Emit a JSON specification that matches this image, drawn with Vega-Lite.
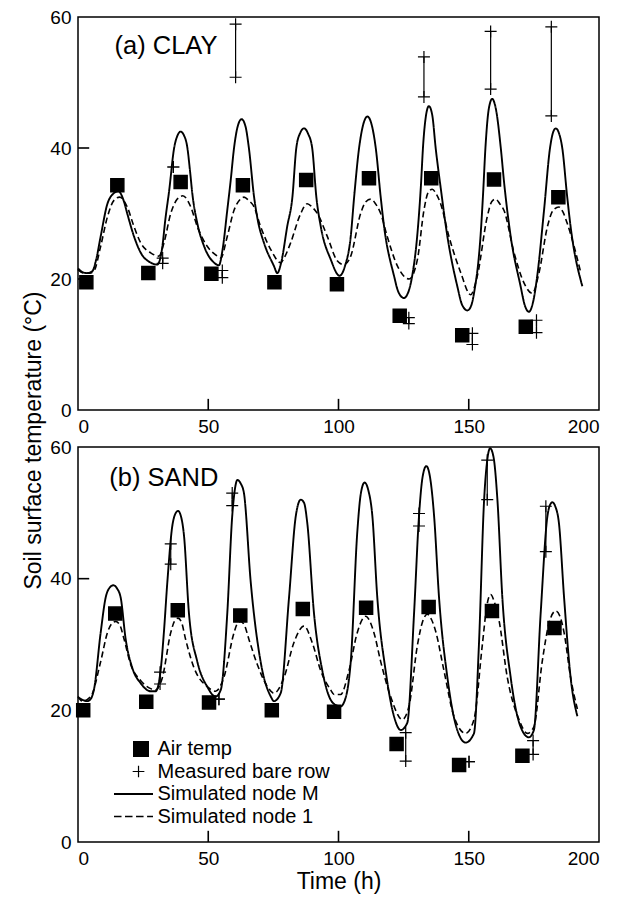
{
  "$schema": "https://vega.github.io/schema/vega-lite/v6.json",
  "padding": {"left": 22, "top": 7, "right": 5, "bottom": 5},
  "background": "white",
  "datasets": {
    "curves": [
      {"p":"a","s":"M","t":0,"v":21.6},{"p":"a","s":"M","t":2,"v":21.0},{"p":"a","s":"M","t":3.6,"v":20.9},{"p":"a","s":"M","t":5.5,"v":21.2},{"p":"a","s":"M","t":7,"v":23.0},{"p":"a","s":"M","t":8.7,"v":26.5},{"p":"a","s":"M","t":11.3,"v":31.5},{"p":"a","s":"M","t":13.5,"v":33.0},{"p":"a","s":"M","t":15.5,"v":33.4},{"p":"a","s":"M","t":17.5,"v":32.0},{"p":"a","s":"M","t":18.9,"v":30.0},{"p":"a","s":"M","t":21.5,"v":26.5},{"p":"a","s":"M","t":24.1,"v":24.0},{"p":"a","s":"M","t":27.9,"v":22.5},{"p":"a","s":"M","t":30.4,"v":22.2},{"p":"a","s":"M","t":31.5,"v":23.0},{"p":"a","s":"M","t":32.4,"v":25.0},{"p":"a","s":"M","t":33.5,"v":29.0},{"p":"a","s":"M","t":35.0,"v":33.5},{"p":"a","s":"M","t":36.9,"v":40.0},{"p":"a","s":"M","t":38.3,"v":42.0},{"p":"a","s":"M","t":39.4,"v":42.5},{"p":"a","s":"M","t":40.6,"v":42.0},{"p":"a","s":"M","t":42.0,"v":40.0},{"p":"a","s":"M","t":43.0,"v":36.5},{"p":"a","s":"M","t":43.9,"v":33.0},{"p":"a","s":"M","t":45.8,"v":28.5},{"p":"a","s":"M","t":48.4,"v":25.0},{"p":"a","s":"M","t":52.2,"v":22.5},{"p":"a","s":"M","t":54.1,"v":22.1},{"p":"a","s":"M","t":55.5,"v":24.5},{"p":"a","s":"M","t":57.3,"v":30.5},{"p":"a","s":"M","t":58.6,"v":35.0},{"p":"a","s":"M","t":59.9,"v":40.0},{"p":"a","s":"M","t":61.3,"v":43.3},{"p":"a","s":"M","t":62.8,"v":44.4},{"p":"a","s":"M","t":64.3,"v":43.3},{"p":"a","s":"M","t":65.6,"v":40.0},{"p":"a","s":"M","t":67.6,"v":32.5},{"p":"a","s":"M","t":69.0,"v":29.0},{"p":"a","s":"M","t":71.4,"v":25.5},{"p":"a","s":"M","t":75.2,"v":22.0},{"p":"a","s":"M","t":76.5,"v":20.9},{"p":"a","s":"M","t":78.0,"v":22.5},{"p":"a","s":"M","t":80.3,"v":28.0},{"p":"a","s":"M","t":82.3,"v":32.5},{"p":"a","s":"M","t":83.8,"v":40.0},{"p":"a","s":"M","t":85.3,"v":42.3},{"p":"a","s":"M","t":86.8,"v":43.0},{"p":"a","s":"M","t":88.3,"v":42.2},{"p":"a","s":"M","t":89.9,"v":40.0},{"p":"a","s":"M","t":91.5,"v":32.5},{"p":"a","s":"M","t":93.2,"v":28.0},{"p":"a","s":"M","t":97.0,"v":23.0},{"p":"a","s":"M","t":100.4,"v":20.5},{"p":"a","s":"M","t":102.5,"v":22.0},{"p":"a","s":"M","t":104.7,"v":26.5},{"p":"a","s":"M","t":106.0,"v":32.5},{"p":"a","s":"M","t":107.9,"v":40.0},{"p":"a","s":"M","t":109.5,"v":43.6},{"p":"a","s":"M","t":111.1,"v":44.8},{"p":"a","s":"M","t":112.7,"v":43.6},{"p":"a","s":"M","t":114.3,"v":40.0},{"p":"a","s":"M","t":116.2,"v":32.5},{"p":"a","s":"M","t":117.5,"v":28.0},{"p":"a","s":"M","t":121.3,"v":20.5},{"p":"a","s":"M","t":123.0,"v":18.0},{"p":"a","s":"M","t":125.1,"v":17.1},{"p":"a","s":"M","t":126.8,"v":18.0},{"p":"a","s":"M","t":128.3,"v":20.5},{"p":"a","s":"M","t":130.2,"v":26.5},{"p":"a","s":"M","t":131.6,"v":34.0},{"p":"a","s":"M","t":132.5,"v":40.5},{"p":"a","s":"M","t":133.6,"v":45.0},{"p":"a","s":"M","t":134.7,"v":46.4},{"p":"a","s":"M","t":136.0,"v":45.0},{"p":"a","s":"M","t":137.3,"v":40.0},{"p":"a","s":"M","t":139.2,"v":34.0},{"p":"a","s":"M","t":141.8,"v":26.5},{"p":"a","s":"M","t":145.6,"v":18.9},{"p":"a","s":"M","t":147.5,"v":16.0},{"p":"a","s":"M","t":149.5,"v":15.2},{"p":"a","s":"M","t":151.0,"v":16.0},{"p":"a","s":"M","t":152.0,"v":17.8},{"p":"a","s":"M","t":154.6,"v":27.0},{"p":"a","s":"M","t":155.5,"v":33.0},{"p":"a","s":"M","t":156.4,"v":40.0},{"p":"a","s":"M","t":157.7,"v":46.0},{"p":"a","s":"M","t":159.0,"v":47.5},{"p":"a","s":"M","t":160.4,"v":46.0},{"p":"a","s":"M","t":162.3,"v":40.0},{"p":"a","s":"M","t":163.5,"v":35.0},{"p":"a","s":"M","t":166.1,"v":26.5},{"p":"a","s":"M","t":169.9,"v":18.9},{"p":"a","s":"M","t":171.5,"v":16.0},{"p":"a","s":"M","t":173.1,"v":15.0},{"p":"a","s":"M","t":174.7,"v":16.5},{"p":"a","s":"M","t":176.3,"v":20.5},{"p":"a","s":"M","t":178.9,"v":30.5},{"p":"a","s":"M","t":181.2,"v":40.0},{"p":"a","s":"M","t":182.3,"v":42.3},{"p":"a","s":"M","t":183.4,"v":43.0},{"p":"a","s":"M","t":184.6,"v":42.3},{"p":"a","s":"M","t":185.9,"v":40.0},{"p":"a","s":"M","t":187.8,"v":32.5},{"p":"a","s":"M","t":189.1,"v":28.0},{"p":"a","s":"M","t":193.6,"v":18.9},
      {"p":"a","s":"1","t":0,"v":21.4},{"p":"a","s":"1","t":2.3,"v":20.9},{"p":"a","s":"1","t":4.5,"v":20.9},{"p":"a","s":"1","t":6.1,"v":21.2},{"p":"a","s":"1","t":8.7,"v":25.0},{"p":"a","s":"1","t":11.3,"v":29.5},{"p":"a","s":"1","t":13.8,"v":32.0},{"p":"a","s":"1","t":16.0,"v":32.5},{"p":"a","s":"1","t":18.9,"v":31.0},{"p":"a","s":"1","t":21.5,"v":28.0},{"p":"a","s":"1","t":24.1,"v":25.5},{"p":"a","s":"1","t":27.9,"v":24.0},{"p":"a","s":"1","t":31.1,"v":23.5},{"p":"a","s":"1","t":33.0,"v":25.5},{"p":"a","s":"1","t":35.6,"v":30.0},{"p":"a","s":"1","t":38.1,"v":32.2},{"p":"a","s":"1","t":40.2,"v":32.7},{"p":"a","s":"1","t":43.3,"v":31.0},{"p":"a","s":"1","t":45.8,"v":28.0},{"p":"a","s":"1","t":49.6,"v":25.0},{"p":"a","s":"1","t":53.5,"v":23.5},{"p":"a","s":"1","t":54.8,"v":23.2},{"p":"a","s":"1","t":57.3,"v":26.5},{"p":"a","s":"1","t":59.9,"v":30.5},{"p":"a","s":"1","t":62.4,"v":32.2},{"p":"a","s":"1","t":63.7,"v":32.5},{"p":"a","s":"1","t":65.5,"v":32.0},{"p":"a","s":"1","t":67.6,"v":31.0},{"p":"a","s":"1","t":70.1,"v":28.0},{"p":"a","s":"1","t":74.0,"v":24.5},{"p":"a","s":"1","t":77.8,"v":22.5},{"p":"a","s":"1","t":79.5,"v":23.5},{"p":"a","s":"1","t":81.6,"v":25.5},{"p":"a","s":"1","t":85.5,"v":30.0},{"p":"a","s":"1","t":88.0,"v":31.5},{"p":"a","s":"1","t":89.8,"v":31.0},{"p":"a","s":"1","t":91.9,"v":30.0},{"p":"a","s":"1","t":95.7,"v":26.5},{"p":"a","s":"1","t":99.5,"v":22.8},{"p":"a","s":"1","t":102.1,"v":22.2},{"p":"a","s":"1","t":104.7,"v":23.5},{"p":"a","s":"1","t":108.5,"v":30.0},{"p":"a","s":"1","t":110.5,"v":31.8},{"p":"a","s":"1","t":112.4,"v":32.2},{"p":"a","s":"1","t":114.2,"v":31.5},{"p":"a","s":"1","t":116.2,"v":30.0},{"p":"a","s":"1","t":118.7,"v":26.5},{"p":"a","s":"1","t":122.6,"v":22.0},{"p":"a","s":"1","t":127.1,"v":20.0},{"p":"a","s":"1","t":130.3,"v":23.0},{"p":"a","s":"1","t":132.8,"v":30.5},{"p":"a","s":"1","t":134.4,"v":33.2},{"p":"a","s":"1","t":136.0,"v":33.7},{"p":"a","s":"1","t":137.5,"v":33.0},{"p":"a","s":"1","t":139.2,"v":31.5},{"p":"a","s":"1","t":142.4,"v":26.5},{"p":"a","s":"1","t":146.9,"v":21.0},{"p":"a","s":"1","t":150.7,"v":17.6},{"p":"a","s":"1","t":153.3,"v":20.5},{"p":"a","s":"1","t":157.1,"v":29.5},{"p":"a","s":"1","t":158.8,"v":31.8},{"p":"a","s":"1","t":160.3,"v":32.2},{"p":"a","s":"1","t":161.9,"v":31.5},{"p":"a","s":"1","t":163.5,"v":30.5},{"p":"a","s":"1","t":167.4,"v":24.0},{"p":"a","s":"1","t":171.2,"v":19.4},{"p":"a","s":"1","t":174.4,"v":17.8},{"p":"a","s":"1","t":177.0,"v":21.0},{"p":"a","s":"1","t":180.2,"v":28.0},{"p":"a","s":"1","t":182.4,"v":30.5},{"p":"a","s":"1","t":184.6,"v":31.0},{"p":"a","s":"1","t":186.2,"v":30.2},{"p":"a","s":"1","t":187.8,"v":28.5},{"p":"a","s":"1","t":193.0,"v":21.0},
      {"p":"b","s":"M","t":0,"v":22.0},{"p":"b","s":"M","t":1.7,"v":21.6},{"p":"b","s":"M","t":3.6,"v":21.4},{"p":"b","s":"M","t":5.0,"v":21.8},{"p":"b","s":"M","t":6.1,"v":23.1},{"p":"b","s":"M","t":8.7,"v":31.8},{"p":"b","s":"M","t":10.6,"v":37.1},{"p":"b","s":"M","t":12.3,"v":38.7},{"p":"b","s":"M","t":13.6,"v":39.0},{"p":"b","s":"M","t":15.0,"v":38.5},{"p":"b","s":"M","t":16.4,"v":37.1},{"p":"b","s":"M","t":18.3,"v":30.8},{"p":"b","s":"M","t":20.8,"v":26.5},{"p":"b","s":"M","t":24.1,"v":24.1},{"p":"b","s":"M","t":27.9,"v":22.9},{"p":"b","s":"M","t":29.8,"v":22.9},{"p":"b","s":"M","t":31.7,"v":26.0},{"p":"b","s":"M","t":33.0,"v":32.0},{"p":"b","s":"M","t":34.3,"v":39.5},{"p":"b","s":"M","t":36.2,"v":48.0},{"p":"b","s":"M","t":37.3,"v":49.8},{"p":"b","s":"M","t":38.4,"v":50.3},{"p":"b","s":"M","t":39.5,"v":49.5},{"p":"b","s":"M","t":40.7,"v":46.5},{"p":"b","s":"M","t":42.6,"v":34.7},{"p":"b","s":"M","t":45.8,"v":27.4},{"p":"b","s":"M","t":49.6,"v":23.6},{"p":"b","s":"M","t":52.8,"v":22.1},{"p":"b","s":"M","t":54.8,"v":23.1},{"p":"b","s":"M","t":57.3,"v":34.7},{"p":"b","s":"M","t":59.2,"v":49.5},{"p":"b","s":"M","t":60.2,"v":53.5},{"p":"b","s":"M","t":61.2,"v":55.0},{"p":"b","s":"M","t":62.4,"v":54.5},{"p":"b","s":"M","t":63.7,"v":53.0},{"p":"b","s":"M","t":66.3,"v":39.5},{"p":"b","s":"M","t":70.1,"v":27.4},{"p":"b","s":"M","t":74.0,"v":22.1},{"p":"b","s":"M","t":75.2,"v":21.4},{"p":"b","s":"M","t":77.8,"v":22.6},{"p":"b","s":"M","t":81.0,"v":37.1},{"p":"b","s":"M","t":83.6,"v":49.5},{"p":"b","s":"M","t":85.5,"v":52.0},{"p":"b","s":"M","t":86.8,"v":51.5},{"p":"b","s":"M","t":88.0,"v":48.5},{"p":"b","s":"M","t":90.6,"v":34.7},{"p":"b","s":"M","t":93.8,"v":26.0},{"p":"b","s":"M","t":97.0,"v":21.6},{"p":"b","s":"M","t":99.5,"v":20.7},{"p":"b","s":"M","t":100.8,"v":20.6},{"p":"b","s":"M","t":102.1,"v":21.2},{"p":"b","s":"M","t":104.7,"v":27.4},{"p":"b","s":"M","t":107.2,"v":47.0},{"p":"b","s":"M","t":108.6,"v":53.0},{"p":"b","s":"M","t":110.0,"v":54.6},{"p":"b","s":"M","t":111.4,"v":53.5},{"p":"b","s":"M","t":113.0,"v":49.5},{"p":"b","s":"M","t":114.9,"v":37.1},{"p":"b","s":"M","t":118.1,"v":26.0},{"p":"b","s":"M","t":121.3,"v":19.1},{"p":"b","s":"M","t":123.9,"v":17.0},{"p":"b","s":"M","t":126.4,"v":18.1},{"p":"b","s":"M","t":129.0,"v":34.7},{"p":"b","s":"M","t":130.9,"v":49.5},{"p":"b","s":"M","t":132.3,"v":55.5},{"p":"b","s":"M","t":133.7,"v":57.1},{"p":"b","s":"M","t":135.1,"v":55.5},{"p":"b","s":"M","t":136.7,"v":49.5},{"p":"b","s":"M","t":138.6,"v":37.1},{"p":"b","s":"M","t":141.8,"v":25.0},{"p":"b","s":"M","t":145.6,"v":17.0},{"p":"b","s":"M","t":148.8,"v":15.1},{"p":"b","s":"M","t":152.0,"v":16.5},{"p":"b","s":"M","t":153.9,"v":29.9},{"p":"b","s":"M","t":155.9,"v":52.0},{"p":"b","s":"M","t":157.1,"v":58.0},{"p":"b","s":"M","t":158.2,"v":59.8},{"p":"b","s":"M","t":159.5,"v":58.5},{"p":"b","s":"M","t":161.0,"v":52.0},{"p":"b","s":"M","t":162.9,"v":37.1},{"p":"b","s":"M","t":166.1,"v":25.0},{"p":"b","s":"M","t":169.9,"v":17.5},{"p":"b","s":"M","t":173.1,"v":15.9},{"p":"b","s":"M","t":175.0,"v":17.0},{"p":"b","s":"M","t":177.6,"v":34.7},{"p":"b","s":"M","t":180.2,"v":49.5},{"p":"b","s":"M","t":181.2,"v":51.2},{"p":"b","s":"M","t":182.1,"v":51.6},{"p":"b","s":"M","t":183.2,"v":51.0},{"p":"b","s":"M","t":184.6,"v":48.5},{"p":"b","s":"M","t":186.6,"v":37.1},{"p":"b","s":"M","t":189.1,"v":25.0},{"p":"b","s":"M","t":191.7,"v":19.1},
      {"p":"b","s":"1","t":0,"v":22.1},{"p":"b","s":"1","t":1.7,"v":21.4},{"p":"b","s":"1","t":4.9,"v":22.1},{"p":"b","s":"1","t":8.7,"v":27.4},{"p":"b","s":"1","t":11.3,"v":31.8},{"p":"b","s":"1","t":13.0,"v":33.2},{"p":"b","s":"1","t":14.5,"v":33.5},{"p":"b","s":"1","t":16.0,"v":33.0},{"p":"b","s":"1","t":17.7,"v":30.8},{"p":"b","s":"1","t":20.2,"v":27.0},{"p":"b","s":"1","t":24.1,"v":24.5},{"p":"b","s":"1","t":27.9,"v":23.3},{"p":"b","s":"1","t":29.8,"v":23.1},{"p":"b","s":"1","t":32.4,"v":25.0},{"p":"b","s":"1","t":35.6,"v":31.8},{"p":"b","s":"1","t":37.0,"v":33.5},{"p":"b","s":"1","t":38.4,"v":34.0},{"p":"b","s":"1","t":39.8,"v":33.3},{"p":"b","s":"1","t":41.3,"v":30.8},{"p":"b","s":"1","t":44.5,"v":26.5},{"p":"b","s":"1","t":49.6,"v":23.6},{"p":"b","s":"1","t":52.8,"v":22.9},{"p":"b","s":"1","t":56.0,"v":25.0},{"p":"b","s":"1","t":59.9,"v":31.8},{"p":"b","s":"1","t":61.2,"v":33.2},{"p":"b","s":"1","t":62.4,"v":33.5},{"p":"b","s":"1","t":63.8,"v":33.0},{"p":"b","s":"1","t":65.6,"v":30.8},{"p":"b","s":"1","t":68.8,"v":27.0},{"p":"b","s":"1","t":72.7,"v":23.6},{"p":"b","s":"1","t":75.2,"v":22.6},{"p":"b","s":"1","t":79.1,"v":25.0},{"p":"b","s":"1","t":82.9,"v":30.3},{"p":"b","s":"1","t":86.8,"v":32.8},{"p":"b","s":"1","t":89.9,"v":30.3},{"p":"b","s":"1","t":93.2,"v":26.0},{"p":"b","s":"1","t":97.0,"v":23.1},{"p":"b","s":"1","t":98.3,"v":22.4},{"p":"b","s":"1","t":100.8,"v":22.4},{"p":"b","s":"1","t":104.0,"v":26.0},{"p":"b","s":"1","t":107.2,"v":31.8},{"p":"b","s":"1","t":110.4,"v":34.3},{"p":"b","s":"1","t":113.6,"v":31.8},{"p":"b","s":"1","t":116.2,"v":27.4},{"p":"b","s":"1","t":120.0,"v":22.1},{"p":"b","s":"1","t":124.5,"v":18.6},{"p":"b","s":"1","t":127.1,"v":20.7},{"p":"b","s":"1","t":130.3,"v":29.9},{"p":"b","s":"1","t":132.3,"v":33.5},{"p":"b","s":"1","t":134.1,"v":34.6},{"p":"b","s":"1","t":135.7,"v":33.8},{"p":"b","s":"1","t":137.3,"v":32.0},{"p":"b","s":"1","t":140.5,"v":26.0},{"p":"b","s":"1","t":144.3,"v":19.1},{"p":"b","s":"1","t":148.8,"v":16.5},{"p":"b","s":"1","t":152.0,"v":18.6},{"p":"b","s":"1","t":155.2,"v":29.9},{"p":"b","s":"1","t":157.0,"v":36.0},{"p":"b","s":"1","t":158.4,"v":37.6},{"p":"b","s":"1","t":159.8,"v":36.5},{"p":"b","s":"1","t":161.6,"v":33.7},{"p":"b","s":"1","t":164.8,"v":25.0},{"p":"b","s":"1","t":169.3,"v":18.6},{"p":"b","s":"1","t":172.5,"v":16.5},{"p":"b","s":"1","t":175.0,"v":17.5},{"p":"b","s":"1","t":178.2,"v":27.4},{"p":"b","s":"1","t":181.0,"v":33.5},{"p":"b","s":"1","t":183.4,"v":35.1},{"p":"b","s":"1","t":185.0,"v":34.3},{"p":"b","s":"1","t":186.6,"v":31.8},{"p":"b","s":"1","t":189.1,"v":25.0},{"p":"b","s":"1","t":191.7,"v":20.2}
    ],
    "air": [
      {"p":"a","s":"Air temp","t":3.2,"v":19.5},{"p":"a","s":"Air temp","t":15.1,"v":34.3},{"p":"a","s":"Air temp","t":27.0,"v":20.9},{"p":"a","s":"Air temp","t":39.4,"v":34.8},{"p":"a","s":"Air temp","t":51.2,"v":20.8},{"p":"a","s":"Air temp","t":63.3,"v":34.3},{"p":"a","s":"Air temp","t":75.4,"v":19.5},{"p":"a","s":"Air temp","t":87.6,"v":35.1},{"p":"a","s":"Air temp","t":99.4,"v":19.2},{"p":"a","s":"Air temp","t":111.7,"v":35.4},{"p":"a","s":"Air temp","t":123.5,"v":14.4},{"p":"a","s":"Air temp","t":135.6,"v":35.4},{"p":"a","s":"Air temp","t":147.5,"v":11.4},{"p":"a","s":"Air temp","t":159.7,"v":35.2},{"p":"a","s":"Air temp","t":171.9,"v":12.7},{"p":"a","s":"Air temp","t":184.4,"v":32.5},
      {"p":"b","s":"Air temp","t":2.0,"v":20.0},{"p":"b","s":"Air temp","t":14.3,"v":34.7},{"p":"b","s":"Air temp","t":26.2,"v":21.3},{"p":"b","s":"Air temp","t":38.3,"v":35.2},{"p":"b","s":"Air temp","t":50.3,"v":21.2},{"p":"b","s":"Air temp","t":62.3,"v":34.4},{"p":"b","s":"Air temp","t":74.4,"v":20.0},{"p":"b","s":"Air temp","t":86.3,"v":35.4},{"p":"b","s":"Air temp","t":98.3,"v":19.8},{"p":"b","s":"Air temp","t":110.6,"v":35.6},{"p":"b","s":"Air temp","t":122.3,"v":14.9},{"p":"b","s":"Air temp","t":134.6,"v":35.7},{"p":"b","s":"Air temp","t":146.3,"v":11.7},{"p":"b","s":"Air temp","t":158.9,"v":35.1},{"p":"b","s":"Air temp","t":170.6,"v":13.1},{"p":"b","s":"Air temp","t":182.9,"v":32.5}
    ],
    "meas": [
      {"p":"a","t":32.5,"lo":22.4,"hi":23.2},{"p":"a","t":36.6,"lo":37.1,"hi":37.1},{"p":"a","t":55.4,"lo":20.2,"hi":21.3},{"p":"a","t":60.5,"lo":50.8,"hi":58.9},{"p":"a","t":127.0,"lo":13.2,"hi":14.1},{"p":"a","t":132.8,"lo":47.8,"hi":53.9},{"p":"a","t":151.4,"lo":10.0,"hi":11.7},{"p":"a","t":158.4,"lo":49.0,"hi":57.8},{"p":"a","t":176.0,"lo":11.8,"hi":13.7},{"p":"a","t":181.7,"lo":44.9,"hi":58.5},
      {"p":"b","t":31.5,"lo":24.0,"hi":25.8},{"p":"b","t":35.6,"lo":42.2,"hi":45.3},{"p":"b","t":54.1,"lo":21.7,"hi":21.7},{"p":"b","t":59.2,"lo":51.1,"hi":53.0},{"p":"b","t":125.8,"lo":12.3,"hi":16.6},{"p":"b","t":130.9,"lo":48.0,"hi":49.9},{"p":"b","t":150.1,"lo":12.2,"hi":12.2},{"p":"b","t":157.1,"lo":52.0,"hi":58.0},{"p":"b","t":174.7,"lo":13.3,"hi":15.4},{"p":"b","t":179.6,"lo":44.1,"hi":51.0}
    ],
    "xticks": [{"tx": 50}, {"tx": 100}, {"tx": 150}],
    "yticks": [{"ty": 20}, {"ty": 40}]
  },
  "vconcat": [
    {
      "width": 521, "height": 393,
      "layer": [
        {
          "data": {"name": "curves"},
          "transform": [{"filter": "datum.p === 'a'"}],
          "mark": {"type": "line", "interpolate": "monotone", "color": "black"},
          "encoding": {
            "x": {"field": "t", "type": "quantitative", "scale": {"domain": [0, 200], "nice": false}, "axis": {"values": [0, 50, 100, 150, 200], "title": null}},
            "y": {"field": "v", "type": "quantitative", "scale": {"domain": [0, 60], "nice": false}, "axis": {"values": [0, 20, 40, 60], "title": null}},
            "detail": {"field": "s"},
            "strokeDash": {"field": "s", "type": "nominal", "scale": {"domain": ["M", "1"], "range": [[1, 0], [6, 3.5]]}, "legend": null},
            "strokeWidth": {"field": "s", "type": "nominal", "scale": {"domain": ["M", "1"], "range": [1.9, 1.6]}, "legend": null}
          }
        },
        {
          "data": {"name": "xticks"},
          "mark": {"type": "rule", "color": "black", "strokeWidth": 1.6},
          "encoding": {"x": {"field": "tx", "type": "quantitative"}, "y": {"datum": 0}, "y2": {"datum": 1.7}}
        },
        {
          "data": {"name": "yticks"},
          "mark": {"type": "rule", "color": "black", "strokeWidth": 1.6},
          "encoding": {"y": {"field": "ty", "type": "quantitative"}, "x": {"datum": 0}, "x2": {"datum": 4.3}}
        },
        {
          "data": {"name": "air"},
          "transform": [{"filter": "datum.p === 'a'"}],
          "mark": {"type": "point", "shape": "square", "filled": false, "fill": "black", "stroke": "black", "strokeWidth": 1.5, "size": 169, "opacity": 1},
          "encoding": {"x": {"field": "t", "type": "quantitative"}, "y": {"field": "v", "type": "quantitative"}}
        },
        {
          "data": {"name": "meas"},
          "transform": [{"filter": "datum.p === 'a'"}],
          "mark": {"type": "rule", "color": "black", "strokeWidth": 1.2},
          "encoding": {"x": {"field": "t", "type": "quantitative"}, "y": {"field": "lo", "type": "quantitative"}, "y2": {"field": "hi"}}
        },
        {
          "data": {"name": "meas"},
          "transform": [{"filter": "datum.p === 'a'"}],
          "mark": {"type": "point", "shape": "M-1,0L1,0M0,-1L0,1", "filled": false, "color": "black", "size": 144, "strokeWidth": 1.2, "opacity": 1},
          "encoding": {"x": {"field": "t", "type": "quantitative"}, "y": {"field": "lo", "type": "quantitative"}}
        },
        {
          "data": {"name": "meas"},
          "transform": [{"filter": "datum.p === 'a'"}],
          "mark": {"type": "point", "shape": "M-1,0L1,0M0,-1L0,1", "filled": false, "color": "black", "size": 144, "strokeWidth": 1.2, "opacity": 1},
          "encoding": {"x": {"field": "t", "type": "quantitative"}, "y": {"field": "hi", "type": "quantitative"}}
        },
        {
          "data": {"values": [{}]},
          "mark": {"type": "text", "text": "(a) CLAY", "align": "left", "baseline": "middle", "fontSize": 25.5, "font": "Liberation Sans", "color": "black"},
          "encoding": {"x": {"datum": 14}, "y": {"datum": 55.5}}
        }
      ]
    },
    {
      "width": 521, "height": 395,
      "layer": [
        {
          "data": {"name": "curves"},
          "transform": [{"filter": "datum.p === 'b'"}],
          "mark": {"type": "line", "interpolate": "monotone", "color": "black"},
          "encoding": {
            "x": {"field": "t", "type": "quantitative", "scale": {"domain": [0, 200], "nice": false}, "axis": {"values": [0, 50, 100, 150, 200], "title": "Time (h)", "titleFontSize": 23, "titlePadding": 2}},
            "y": {"field": "v", "type": "quantitative", "scale": {"domain": [0, 60], "nice": false}, "axis": {"values": [0, 20, 40, 60], "title": "Soil surface temperature (°C)", "titleFontSize": 23, "titleY": -7}},
            "detail": {"field": "s"},
            "strokeDash": {"field": "s", "type": "nominal", "scale": {"domain": ["M", "1"], "range": [[1, 0], [6, 3.5]]}, "legend": null},
            "strokeWidth": {"field": "s", "type": "nominal", "scale": {"domain": ["M", "1"], "range": [1.9, 1.6]}, "legend": null}
          }
        },
        {
          "data": {"name": "xticks"},
          "mark": {"type": "rule", "color": "black", "strokeWidth": 1.6},
          "encoding": {"x": {"field": "tx", "type": "quantitative"}, "y": {"datum": 0}, "y2": {"datum": 1.7}}
        },
        {
          "data": {"name": "yticks"},
          "mark": {"type": "rule", "color": "black", "strokeWidth": 1.6},
          "encoding": {"y": {"field": "ty", "type": "quantitative"}, "x": {"datum": 0}, "x2": {"datum": 4.3}}
        },
        {
          "data": {"name": "air"},
          "transform": [{"filter": "datum.p === 'b'"}],
          "mark": {"type": "point", "filled": false, "fill": "black", "stroke": "black", "strokeWidth": 1.5, "size": 169, "opacity": 1},
          "encoding": {
            "x": {"field": "t", "type": "quantitative"},
            "y": {"field": "v", "type": "quantitative"},
            "shape": {
              "field": "s", "type": "nominal",
              "scale": {
                "domain": ["Air temp", "Measured bare row", "Simulated node M", "Simulated node 1"],
                "range": [
                  "square",
                  "M-1.04,-0.075L0.42,-0.075L0.42,0.075L-1.04,0.075ZM-0.385,-0.73L-0.235,-0.73L-0.235,0.73L-0.385,0.73Z",
                  "M-3.375,-0.12L1.5,-0.12L1.5,0.12L-3.375,0.12Z",
                  "M-3.375,-0.1L-2.435,-0.1L-2.435,0.1L-3.375,0.1ZM-2,-0.1L-1.06,-0.1L-1.06,0.1L-2,0.1ZM-0.62,-0.1L0.32,-0.1L0.32,0.1L-0.62,0.1ZM0.76,-0.1L1.5,-0.1L1.5,0.1L0.76,0.1Z"
                ]
              },
              "legend": {
                "title": null, "orient": "none", "legendX": 53, "legendY": 292,
                "labelFontSize": 20, "labelFont": "Liberation Sans", "labelColor": "black", "labelOffset": 6.5, "labelLimit": 400,
                "symbolSize": 256, "rowPadding": 2.5,
                "symbolFillColor": "black", "symbolStrokeWidth": 0, "symbolOpacity": 1
              }
            }
          }
        },
        {
          "data": {"name": "meas"},
          "transform": [{"filter": "datum.p === 'b'"}],
          "mark": {"type": "rule", "color": "black", "strokeWidth": 1.2},
          "encoding": {"x": {"field": "t", "type": "quantitative"}, "y": {"field": "lo", "type": "quantitative"}, "y2": {"field": "hi"}}
        },
        {
          "data": {"name": "meas"},
          "transform": [{"filter": "datum.p === 'b'"}],
          "mark": {"type": "point", "shape": "M-1,0L1,0M0,-1L0,1", "filled": false, "color": "black", "size": 144, "strokeWidth": 1.2, "opacity": 1},
          "encoding": {"x": {"field": "t", "type": "quantitative"}, "y": {"field": "lo", "type": "quantitative"}}
        },
        {
          "data": {"name": "meas"},
          "transform": [{"filter": "datum.p === 'b'"}],
          "mark": {"type": "point", "shape": "M-1,0L1,0M0,-1L0,1", "filled": false, "color": "black", "size": 144, "strokeWidth": 1.2, "opacity": 1},
          "encoding": {"x": {"field": "t", "type": "quantitative"}, "y": {"field": "hi", "type": "quantitative"}}
        },
        {
          "data": {"values": [{}]},
          "mark": {"type": "text", "text": "(b) SAND", "align": "left", "baseline": "middle", "fontSize": 25.5, "font": "Liberation Sans", "color": "black"},
          "encoding": {"x": {"datum": 12}, "y": {"datum": 55.3}}
        }
      ]
    }
  ],
  "spacing": 37,
  "bounds": "flush",
  "resolve": {"legend": {"shape": "independent"}},
  "config": {
    "font": "Liberation Sans",
    "view": {"stroke": "black", "strokeWidth": 1.5},
    "axis": {
      "domain": false, "ticks": false, "grid": false,
      "labelFont": "Liberation Sans", "labelFontSize": 19, "labelColor": "black", "labelPadding": 7,
      "titleFont": "Liberation Sans", "titleFontSize": 21, "titleFontWeight": "normal", "titleColor": "black"
    }
  }
}
